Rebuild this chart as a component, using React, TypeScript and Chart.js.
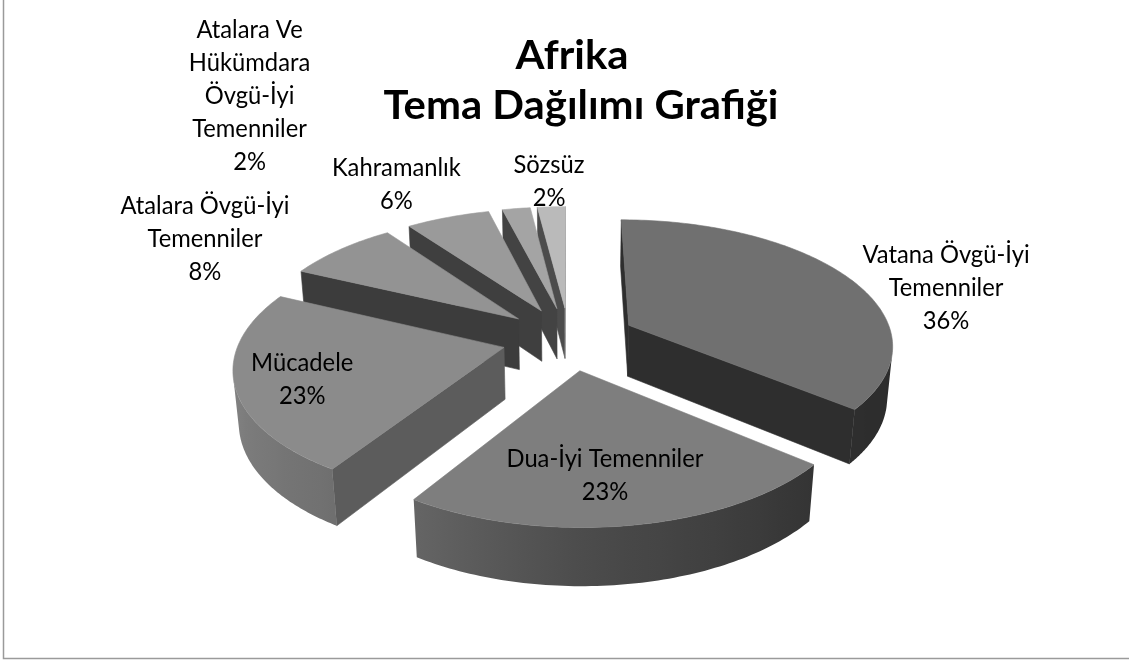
import React, { useEffect, useRef } from 'react';
import { Chart, registerables } from 'chart.js';

Chart.register(...registerables);

// ---------- data ----------
const CATEGORIES = [
  'Vatana Övgü-İyi Temenniler',
  'Dua-İyi Temenniler',
  'Mücadele',
  'Atalara Övgü-İyi Temenniler',
  'Kahramanlık',
  'Atalara Ve Hükümdara Övgü-İyi Temenniler',
  'Sözsüz',
];
const VALUES = [36, 23, 23, 8, 6, 2, 2];
const LABEL_LINES = [
  ['Vatana Övgü-İyi', 'Temenniler'],
  ['Dua-İyi Temenniler'],
  ['Mücadele'],
  ['Atalara Övgü-İyi', 'Temenniler'],
  ['Kahramanlık'],
  ['Atalara Ve', 'Hükümdara', 'Övgü-İyi', 'Temenniler'],
  ['Sözsüz'],
];
const TITLE_LINES = ['Afrika', 'Tema Dağılımı Grafiği'];

// ---------- style ----------
const SLICE_COLORS = ['#707070', '#7e7e7e', '#8b8b8b', '#939393', '#9a9a9a', '#a4a4a4', '#bababa'];
// label anchor: [angle shift from slice middle (deg), distance from slice apex (radius units)]
const LABEL_ANCHORS: [number, number][] = [
  [10.8, 1.33],
  [2.6, 0.70],
  [-1.8, 0.76],
  [-10.6, 1.56],
  [-2.9, 1.46],
  [-22.6, 2.97],
  [0.25, 1.31],
];
const SIN_T = 0.47;
const COS_T = Math.sqrt(1 - SIN_T * SIN_T);
const CAM_DIST = 6.17;
const DEPTH = 0.225;
const FONT = 'Lato, "Noto Sans", sans-serif';
const LABEL_CONDENSE = 0.95;
const TITLE_CONDENSE = 1.02;

function gray(hex: string, f: number) {
  const v = parseInt(hex.slice(1, 3), 16);
  const g = Math.max(0, Math.min(255, Math.round(v * f)));
  return `rgb(${g},${g},${g})`;
}

function wallShade(theta: number) {
  let d = (theta * 180) / Math.PI;
  d = ((d % 360) + 360) % 360;
  if (d > 270) d = 0;
  const xs = [0, 40, 90, 122, 180];
  const ys = [0.38, 0.41, 0.6, 0.8, 0.98];
  if (d >= 180) return ys[4];
  for (let i = 0; i < xs.length - 1; i++) {
    if (d <= xs[i + 1]) {
      const t = (d - xs[i]) / (xs[i + 1] - xs[i]);
      return ys[i] + t * (ys[i + 1] - ys[i]);
    }
  }
  return ys[4];
}

function drawText(ctx: CanvasRenderingContext2D, text: string, x: number, y: number, sx: number) {
  ctx.save();
  ctx.translate(x, y);
  ctx.scale(sx, 1);
  ctx.fillText(text, 0, 0);
  ctx.restore();
}

const pie3d = {
  id: 'pie3d',
  beforeDraw(chart: any) {
    const ctx: CanvasRenderingContext2D = chart.ctx;
    ctx.save();
    ctx.fillStyle = '#ffffff';
    ctx.fillRect(0, 0, chart.width, chart.height);
    ctx.strokeStyle = '#9a9a9a';
    ctx.lineWidth = 1.5;
    ctx.strokeRect(3.5, -20, chart.width + 40, 658.5 + 20);
    ctx.restore();
  },
  beforeDatasetsDraw() {
    return false;
  },
  afterDraw(chart: any) {
    const ctx: CanvasRenderingContext2D = chart.ctx;
    const meta = chart.getDatasetMeta(0);
    const total = VALUES.reduce((a, b) => a + b, 0);
    const slices = meta.data.map((arc: any, i: number) => {
      const p = arc.getProps(['x', 'y', 'startAngle', 'endAngle', 'outerRadius'], true);
      const off = (arc.options.offset || 0) / p.outerRadius;
      const mid = (p.startAngle + p.endAngle) / 2;
      return { ...p, i, mid, ox: off * Math.cos(mid), oz: off * Math.sin(mid) };
    });
    const proj = (s: any, X: number, Z: number, Y: number): [number, number] => {
      const w = Z * COS_T + Y * SIN_T;
      const k = CAM_DIST / (CAM_DIST - w);
      return [s.x + s.outerRadius * X * k, s.y + s.outerRadius * (Z * SIN_T - Y * COS_T) * k];
    };
    const camZ = CAM_DIST * COS_T;
    const order = [...slices].sort(
      (a: any, b: any) => a.oz + 0.6 * Math.sin(a.mid) - (b.oz + 0.6 * Math.sin(b.mid))
    );
    ctx.save();
    for (const s of order) {
      const col = SLICE_COLORS[s.i];
      const a1 = s.startAngle;
      const a2 = s.endAngle;
      // radial (cut) faces
      const faces: { a: number; nx: number; nz: number }[] = [
        { a: a1, nx: Math.sin(a1), nz: -Math.cos(a1) },
        { a: a2, nx: -Math.sin(a2), nz: Math.cos(a2) },
      ];
      for (const f of faces) {
        const vis = -s.ox * f.nx + (camZ - s.oz) * f.nz;
        if (vis <= 0.001) continue;
        const ex = s.ox + Math.cos(f.a);
        const ez = s.oz + Math.sin(f.a);
        const pts = [
          proj(s, s.ox, s.oz, 0),
          proj(s, ex, ez, 0),
          proj(s, ex, ez, -DEPTH),
          proj(s, s.ox, s.oz, -DEPTH),
        ];
        ctx.beginPath();
        pts.forEach((p, j) => (j ? ctx.lineTo(p[0], p[1]) : ctx.moveTo(p[0], p[1])));
        ctx.closePath();
        const sh = f.nx > 0 ? 0.41 + 0.3 * f.nx : 0.41;
        ctx.fillStyle = gray(col, sh);
        ctx.fill();
        ctx.strokeStyle = gray(col, sh);
        ctx.lineWidth = 0.6;
        ctx.stroke();
      }
      // outer wall
      const N = 120;
      let w1 = Infinity;
      let w2 = -Infinity;
      for (let j = 0; j <= N; j++) {
        const t = a1 + ((a2 - a1) * j) / N;
        const px = s.ox + Math.cos(t);
        const pz = s.oz + Math.sin(t);
        const vis = -px * Math.cos(t) + (camZ - pz) * Math.sin(t);
        if (vis > 0) {
          w1 = Math.min(w1, t);
          w2 = Math.max(w2, t);
        }
      }
      if (w2 > w1) {
        const M = 80;
        const top: [number, number][] = [];
        const bot: [number, number][] = [];
        for (let j = 0; j <= M; j++) {
          const t = w1 + ((w2 - w1) * j) / M;
          const X = s.ox + Math.cos(t);
          const Z = s.oz + Math.sin(t);
          top.push(proj(s, X, Z, 0));
          bot.push(proj(s, X, Z, -DEPTH));
        }
        let xmin = Infinity;
        let xmax = -Infinity;
        top.forEach((p) => {
          xmin = Math.min(xmin, p[0]);
          xmax = Math.max(xmax, p[0]);
        });
        const grad = ctx.createLinearGradient(xmin, 0, xmax, 0);
        const K = 16;
        for (let j = 0; j <= K; j++) {
          const t = w1 + ((w2 - w1) * j) / K;
          const p = proj(s, s.ox + Math.cos(t), s.oz + Math.sin(t), 0);
          const pos = xmax > xmin ? (p[0] - xmin) / (xmax - xmin) : 0;
          grad.addColorStop(Math.max(0, Math.min(1, pos)), gray(col, wallShade(t)));
        }
        ctx.beginPath();
        top.forEach((p, j) => (j ? ctx.lineTo(p[0], p[1]) : ctx.moveTo(p[0], p[1])));
        for (let j = bot.length - 1; j >= 0; j--) ctx.lineTo(bot[j][0], bot[j][1]);
        ctx.closePath();
        ctx.fillStyle = grad;
        ctx.fill();
      }
      // top face
      ctx.beginPath();
      const c0 = proj(s, s.ox, s.oz, 0);
      ctx.moveTo(c0[0], c0[1]);
      const T = Math.max(8, Math.ceil(((a2 - a1) * 180) / Math.PI));
      for (let j = 0; j <= T; j++) {
        const t = a1 + ((a2 - a1) * j) / T;
        const p = proj(s, s.ox + Math.cos(t), s.oz + Math.sin(t), 0);
        ctx.lineTo(p[0], p[1]);
      }
      ctx.closePath();
      ctx.fillStyle = col;
      ctx.fill();
      ctx.strokeStyle = col;
      ctx.lineWidth = 0.6;
      ctx.stroke();
    }

    // data labels
    ctx.fillStyle = '#000000';
    ctx.textAlign = 'center';
    ctx.textBaseline = 'alphabetic';
    ctx.font = `25px ${FONT}`;
    const LH = 33;
    for (const s of slices) {
      const [dA, r] = LABEL_ANCHORS[s.i];
      const ang = s.mid + (dA * Math.PI) / 180;
      const [lx, ly] = proj(s, s.ox + r * Math.cos(ang), s.oz + r * Math.sin(ang), 0);
      const pct = Math.round((VALUES[s.i] / total) * 100) + '%';
      const lines = [...LABEL_LINES[s.i], pct];
      const n = lines.length;
      lines.forEach((ln, j) => {
        drawText(ctx, ln, lx, ly + (j - (n - 1) / 2) * LH + 9, LABEL_CONDENSE);
      });
    }

    // title
    ctx.font = `bold 41px ${FONT}`;
    drawText(ctx, TITLE_LINES[0], 572, 69, TITLE_CONDENSE);
    drawText(ctx, TITLE_LINES[1], 581, 119, TITLE_CONDENSE);
    ctx.restore();
  },
};

export default function App() {
  const ref = useRef<HTMLCanvasElement>(null);
  useEffect(() => {
    document.body.style.margin = '0';
    const chart = new Chart(ref.current as HTMLCanvasElement, {
      type: 'pie',
      data: {
        labels: CATEGORIES,
        datasets: [
          {
            data: VALUES,
            backgroundColor: SLICE_COLORS,
            borderWidth: 0,
            offset: 67,
            radius: 264,
          } as any,
        ],
      },
      options: {
        responsive: false,
        animation: false,
        events: [],
        layout: { padding: { left: 9, right: 0, top: 16, bottom: 0 } },
        plugins: {
          legend: { display: false },
          title: { display: false },
          tooltip: { enabled: false },
        },
      },
      plugins: [pie3d as any],
    });
    return () => chart.destroy();
  }, []);
  return <canvas ref={ref} width={1129} height={661} style={{ display: 'block' }} />;
}
